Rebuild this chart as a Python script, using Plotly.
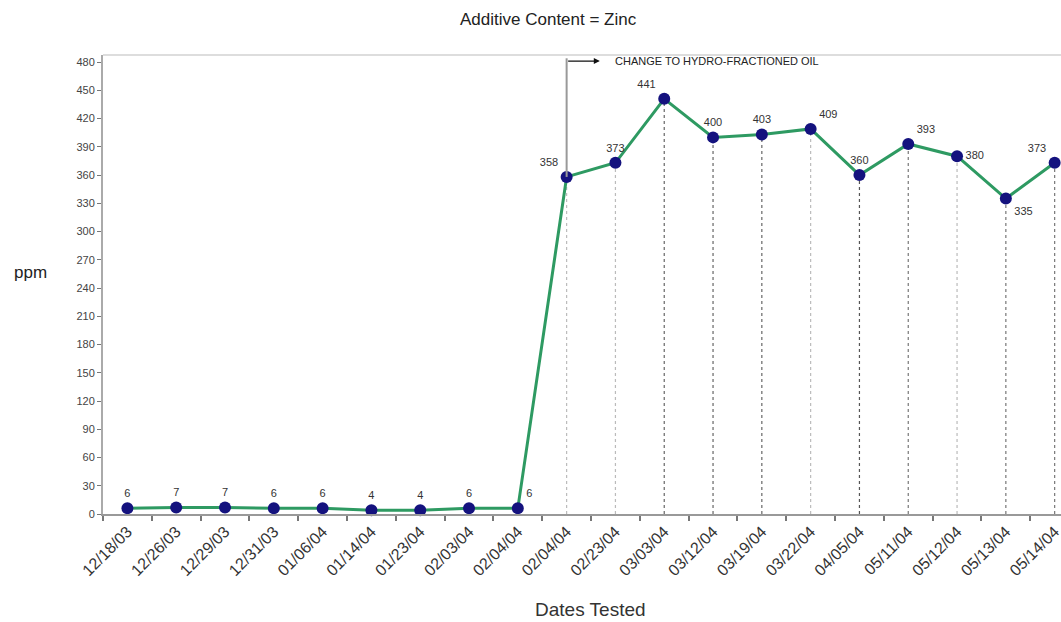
import plotly.graph_objects as go

dates = ["12/18/03", "12/26/03", "12/29/03", "12/31/03", "01/06/04", "01/14/04",
         "01/23/04", "02/03/04", "02/04/04", "02/04/04", "02/23/04", "03/03/04",
         "03/12/04", "03/19/04", "03/22/04", "04/05/04", "05/11/04", "05/12/04",
         "05/13/04", "05/14/04"]
zinc_ppm = [6, 7, 7, 6, 6, 4, 4, 6, 6, 358, 373, 441, 400, 403, 409, 360, 393, 380, 335, 373]
y_ticks = list(range(0, 481, 30))
change_index = 9
change_label = "CHANGE TO HYDRO-FRACTIONED OIL"

label_pos = ["top center"] * 8 + ["top right", "top left", "top center", "top left",
             "top center", "top center", "top right", "top center", "top right",
             "middle right", "bottom right", "top left"]
drop_colors = ["#bbbbbb", "#bbbbbb", "#666666", "#666666", "#666666", "#bbbbbb",
               "#555555", "#777777", "#bbbbbb", "#777777", "#777777"]

FONT = "Liberation Sans, Arial"
W, H = 1061, 622
L, T, B = 103, 55, 108
PH = H - T - B
PW = W - L


def py(pix):
    return (514 - pix) / PH


def px(pix):
    return (pix - L) / PW


xs = list(range(len(dates)))
fig = go.Figure()

for k, i in enumerate(range(change_index, len(dates))):
    fig.add_shape(type="line", xref="x", yref="y", x0=xs[i], x1=xs[i], y0=0, y1=zinc_ppm[i],
                  line=dict(color=drop_colors[k % len(drop_colors)], width=1.2, dash="dot"),
                  layer="below")

fig.add_trace(go.Scatter(
    x=xs, y=zinc_ppm, mode="lines+markers+text",
    text=[str(v) for v in zinc_ppm], textposition=label_pos,
    textfont=dict(family=FONT, size=11, color="#333333"),
    line=dict(color="#2e9a62", width=3),
    marker=dict(color="#14127e", size=12),
    cliponaxis=False, showlegend=False, hoverinfo="skip"))

fig.add_shape(type="line", xref="x", yref="y", x0=change_index, x1=change_index,
              y0=zinc_ppm[change_index], y1=484, line=dict(color="#999999", width=2))
fig.add_annotation(x=change_index + 0.68, y=481, ax=change_index, ay=481,
                   xref="x", yref="y", axref="x", ayref="y", text="",
                   showarrow=True, arrowhead=2, arrowsize=1, arrowwidth=1.2,
                   arrowcolor="#111111")
fig.add_annotation(x=change_index + 0.96, y=481, xref="x", yref="y", text=change_label,
                   showarrow=False, xanchor="left", yanchor="middle",
                   font=dict(family=FONT, size=11, color="#222222"))

fig.update_layout(
    width=W, height=H,
    margin=dict(l=L, r=0, t=T, b=B, autoexpand=False),
    paper_bgcolor="white", plot_bgcolor="white",
    font=dict(family=FONT, color="#333333"),
    xaxis=dict(range=[-0.5, 19.13], tickmode="array", tickvals=xs, ticktext=dates,
               tickangle=-45, ticks="", showgrid=False, zeroline=False, automargin=False,
               ticklabeloverflow="allow",
               showline=True, linecolor="#999999", linewidth=2,
               tickfont=dict(family=FONT, size=16, color="#333333"),
               minor=dict(tick0=0.5, dtick=1, ticks="outside", ticklen=5, tickcolor="#777777",
                          tickwidth=1.5, showgrid=False)),
    yaxis=dict(range=[0, 487.5], tickmode="array", tickvals=y_ticks, ticks="outside",
               ticklen=4, tickcolor="#777777", showgrid=False, zeroline=False, automargin=False,
               showline=True, linecolor="#aaaaaa", linewidth=2,
               tickfont=dict(family=FONT, size=11, color="#444444")),
)
fig.add_shape(type="line", xref="paper", yref="paper", x0=0, x1=1, y0=1, y1=1,
              line=dict(color="#dddddd", width=2))
fig.add_annotation(x=px(548), y=py(20), xref="paper", yref="paper",
                   text="Additive Content = Zinc", showarrow=False,
                   xanchor="center", yanchor="middle",
                   font=dict(family=FONT, size=17, color="#222222"))
fig.add_annotation(x=px(30), y=py(272), xref="paper", yref="paper",
                   text="ppm", showarrow=False, xanchor="center", yanchor="middle",
                   font=dict(family=FONT, size=17, color="#222222"))
fig.add_annotation(x=px(590), y=py(609), xref="paper", yref="paper",
                   text="Dates Tested", showarrow=False, xanchor="center", yanchor="middle",
                   font=dict(family=FONT, size=19, color="#333333"))
fig.write_html("out.html", config={"displayModeBar": False},
               post_script="document.body.style.margin='0';document.body.style.overflow='hidden';")
